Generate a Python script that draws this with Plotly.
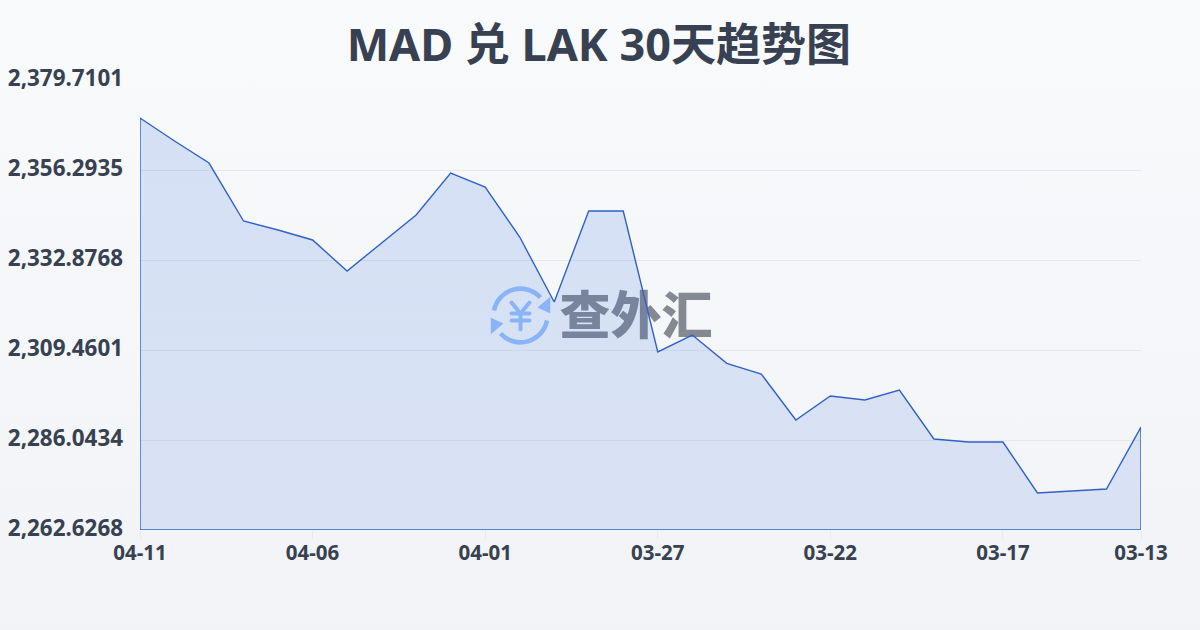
import base64
import plotly.graph_objects as go

dates = ["04-11","04-10","04-09","04-08","04-07","04-06","04-05","04-04","04-03","04-02",
         "04-01","03-31","03-30","03-29","03-28","03-27","03-26","03-25","03-24","03-23",
         "03-22","03-21","03-20","03-19","03-18","03-17","03-16","03-15","03-14","03-13"]
rates = [2369.82,2363.84,2358.11,2343.02,2340.68,2338.08,2330.01,2337.30,2344.59,2355.51,
         2351.87,2338.86,2321.95,2345.63,2345.63,2308.94,2313.36,2306.00,2303.20,2291.25,
         2297.49,2296.45,2299.05,2286.30,2285.52,2285.52,2272.25,2272.77,2273.29,2289.42]
y_ticks = [2262.6268,2286.0434,2309.4601,2332.8768,2356.2935,2379.7101]
y_labels = ["2,262.6268","2,286.0434","2,309.4601","2,332.8768","2,356.2935","2,379.7101"]
x_tick_idx = [0,5,10,15,20,25,29]
title = "MAD 兑 LAK 30天趋势图"
watermark = "查外汇"

W, H = 1200, 630
L, R, T, B = 140, 59, 80, 100
PW, PH = W - L - R, H - T - B
INK = "#374151"
FONT = "'Noto Sans','Noto Sans CJK SC',sans-serif"

idx = list(range(len(dates)))
base = y_ticks[0]
xs = idx + [idx[-1], idx[0], idx[0]]
ys = rates + [base, base, rates[0]]

icon = """<svg xmlns='http://www.w3.org/2000/svg' viewBox='0 0 60 60'>
<g fill='none' stroke='#8ab4f8' stroke-width='4.6'>
<path d='M3.5 25 A27 27 0 0 1 50 12'/>
<path d='M56.5 35 A27 27 0 0 1 10 48'/>
</g>
<path fill='#8ab4f8' d='M60 11 L60 28 L47 22 Z M0 32 L0 49 L13 38 Z'/>
<g fill='none' stroke='#8ab4f8' stroke-width='4' stroke-linecap='round' stroke-linejoin='round'>
<path d='M21 17 L30 28 L39 17 M21 28 H39 M21 35 H39 M30 28 V44'/>
</g></svg>"""
icon_uri = "data:image/svg+xml;base64," + base64.b64encode(icon.encode()).decode()

fig = go.Figure()
fig.add_trace(go.Scatter(
    x=[14.37], y=[2316.9], mode="text", text=[watermark], hoverinfo="skip", showlegend=False,
    textfont=dict(family="'Noto Sans CJK SC'", size=51, color="#858991", weight=900),
    textposition="middle center"))
fig.add_trace(go.Scatter(
    x=xs, y=ys, mode="lines", fill="toself", showlegend=False, cliponaxis=False,
    line=dict(color="#2f62c8", width=1.4),
    fillgradient=dict(type="vertical",
                      colorscale=[[0, "rgba(45,105,220,0.13)"], [1, "rgba(45,105,220,0.17)"]])))

fig.update_layout(
    width=W, height=H,
    margin=dict(l=L, r=R, t=T, b=B, pad=0),
    paper_bgcolor="rgba(0,0,0,0)", plot_bgcolor="rgba(0,0,0,0)",
    font=dict(family=FONT, color=INK),
    title=dict(text=title, x=0.499, xanchor="center", xref="container", y=1-45/H, yanchor="middle",
               font=dict(family=FONT, size=45, color=INK, weight=700)),
    images=[dict(source=icon_uri, xref="paper", yref="paper", layer="above",
                 x=(490.5-L)/PW, y=1-(285.5-T)/PH, sizex=60/PW, sizey=60/PH,
                 xanchor="left", yanchor="top", sizing="stretch")],
    xaxis=dict(range=[0, idx[-1]], tickmode="array", tickvals=x_tick_idx,
               ticktext=[dates[i] for i in x_tick_idx], automargin=False,
               showgrid=False, zeroline=False, showline=False,
               ticks="outside", ticklen=8, tickcolor="#e6e8ec", tickwidth=1, ticklabelstandoff=-4,
               tickfont=dict(size=20.5, color=INK, family=FONT, weight=700)),
    yaxis=dict(range=[y_ticks[0], y_ticks[-1]], tickmode="array", tickvals=y_ticks, ticktext=y_labels,
               automargin=False,
               showgrid=True, gridcolor="#e5e8ee", gridwidth=1, zeroline=False, showline=False,
               ticks="", ticklabelstandoff=16, ticklabelshift=-2,
               tickfont=dict(size=22.4, color=INK, family=FONT, weight=700)),
)
fig.write_html("out.html", config={"displayModeBar": False},
    post_script="document.documentElement.style.height='100%';document.body.style.margin='0';"
                "document.body.style.height='630px';"
                "document.body.style.background='linear-gradient(180deg,#f9fafc 0%,#f1f3f6 100%)';")
